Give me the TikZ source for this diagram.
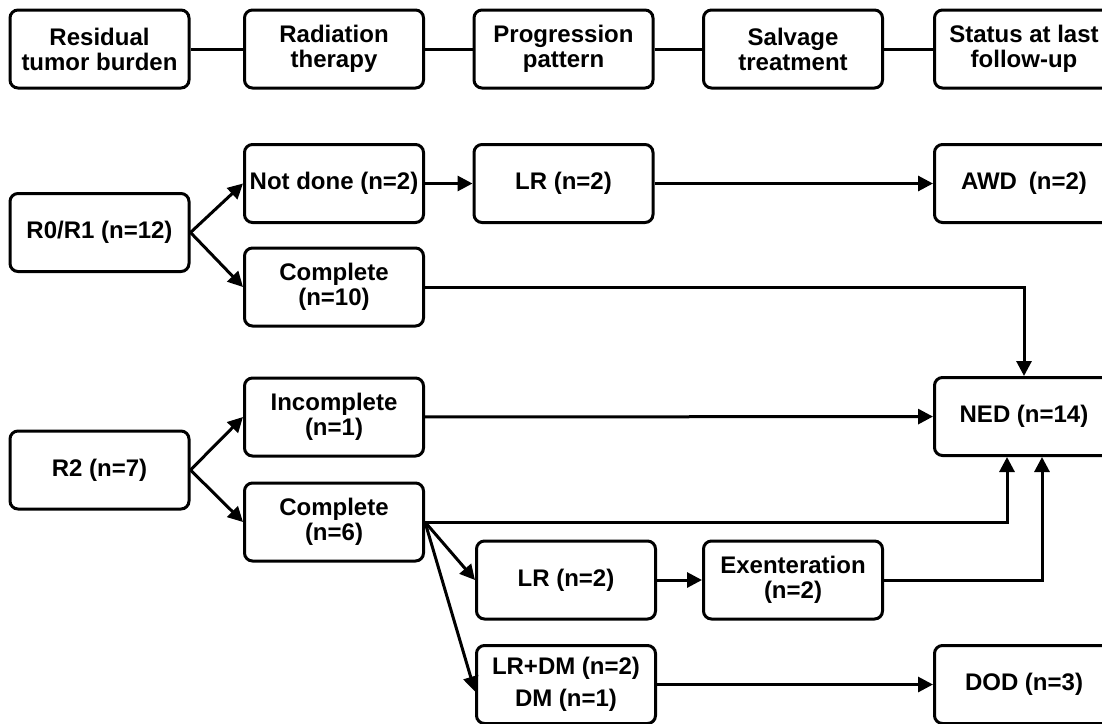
\documentclass[tikz,border=0pt]{standalone}
\usepackage{fontspec}
\setmainfont{Liberation Sans}
\usetikzlibrary{arrows.meta}

\begin{document}
\begin{tikzpicture}[x=1pt, y=-1pt,
    box/.style={rectangle, draw, line width=3pt, rounded corners=8pt,
        minimum width=179pt, minimum height=78pt, inner sep=2pt, align=center,
        font=\bfseries\fontsize{24}{25}\selectfont},
    lnk/.style={line width=3pt},
    arr/.style={line width=3pt, -{Triangle[length=15pt,width=15pt]}}]
    \useasboundingbox (0,0) rectangle (1102,723);
    \clip (0,0) rectangle (1102,723);
    % header row
    \node[box] (h1) at (99.5,49) {Residual\\tumor burden};
    \node[box] (h2) at (334,49) {Radiation\\therapy};
    \node[box] (h3) at (563.5,49) {Progression\\pattern};
    \node[box] (h4) at (793,49) {Salvage\\treatment};
    \node[box] (h5) at (1024,49) {Status at last\\follow-up};
    \foreach \a/\b in {h1/h2, h2/h3, h3/h4, h4/h5}
        \draw[lnk] (\a) -- (\b);
    % R0/R1
    \node[box] (r01) at (99.5,232.5) {R0/R1 (n=12)};
    \node[box] (nodone) at (334,183.5) {Not done (n=2)};
    \node[box] (comp1) at (334,287) {Complete\\(n=10)};
    \node[box] (lr1) at (563.5,183.5) {LR (n=2)};
    \node[box] (awd) at (1024,183.5) {AWD\enspace(n=2)};
    \node[box] (ned) at (1024,416.5) {NED (n=14)};
    % R2
    \node[box] (r2) at (99.5,470) {R2 (n=7)};
    \node[box] (incomp) at (334,417) {Incomplete\\(n=1)};
    \node[box] (comp2) at (334,522) {Complete\\(n=6)};
    \node[box] (lr2) at (566,580) {LR (n=2)};
    \node[box] (exent) at (793,580) {Exenteration\\(n=2)};
    \node[box] (lrdm) at (566,684.5) {LR+DM (n=2)\\[7pt]DM (n=1)};
    \node[box] (dod) at (1024,684.5) {DOD (n=3)};
    % connectors
    \draw[arr] (r01.east) -- (nodone.west);
    \draw[arr] (r01.east) -- (comp1.west);
    \draw[arr] (nodone) -- (lr1);
    \draw[arr] (lr1) -- (awd);
    \draw[arr] (comp1.east) -| (ned.north);
    \draw[arr] (r2.east) -- (incomp.west);
    \draw[arr] (r2.east) -- (comp2.west);
    \draw[arr] (incomp) -- (ned);
    \draw[arr] (comp2.east) -| ([xshift=-17pt]ned.south);
    \draw[arr] (comp2.east) -- (lr2.west);
    \draw[arr] (comp2.east) -- ([yshift=-7pt]lrdm.west);
    \draw[arr] (lr2) -- (exent);
    \draw[arr] (exent.east) -| ([xshift=18pt]ned.south);
    \draw[arr] (lrdm) -- (dod);
\end{tikzpicture}
\end{document}
